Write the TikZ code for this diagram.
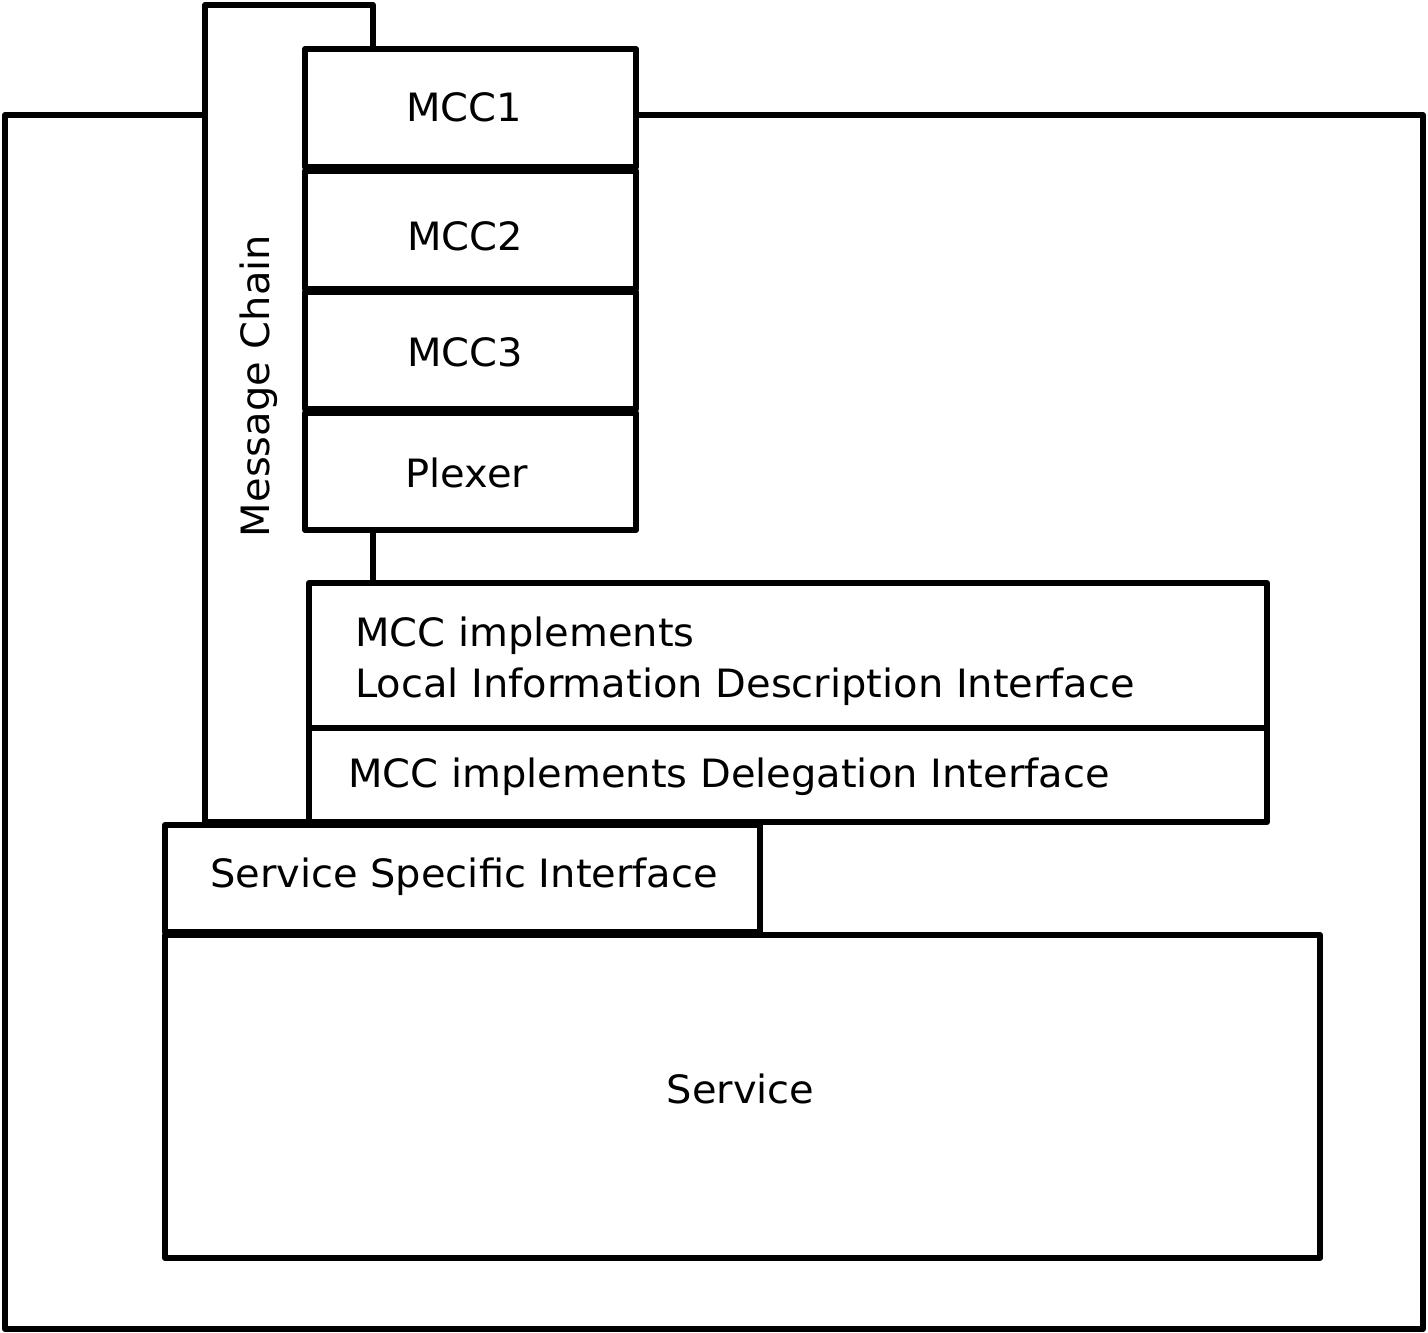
\documentclass[tikz,border=0pt]{standalone}
\usepackage{fontspec}
\setmainfont{DejaVu Sans}[FakeStretch=1.025]
\begin{document}
\begin{tikzpicture}[x=1pt,y=-1pt,
  box/.style={draw=black, fill=white, line width=6pt, line join=round, rectangle, inner sep=0pt, outer sep=0pt},
  lbl/.style={font=\fontsize{39}{51}\selectfont, inner sep=0pt, text height=28.5pt, text depth=0pt}]
\useasboundingbox (0,0) rectangle (1428,1333);
% outer environment box
\node[box, minimum width=1418, minimum height=1214] (outer) at (714,722) {};
% message chain column
\node[box, minimum width=168, minimum height=817] (chain) at (289,413.5) {};
\node[lbl, rotate=90] (chaint) at (255,386) {Message Chain};
% MCC stack
\node[box, minimum width=331, minimum height=118] (mcc1) at (470.5,108) {};
\node[box, minimum width=331, minimum height=118] (mcc2) at (470.5,230) {};
\node[box, minimum width=331, minimum height=117] (mcc3) at (470.5,350.5) {};
\node[box, minimum width=331, minimum height=117] (plexer) at (470.5,471.5) {};
\node[lbl] (mcc1t) at (464,107) {MCC1};
\node[lbl] (mcc2t) at (465,236) {MCC2};
\node[lbl] (mcc3t) at (465,352.5) {MCC3};
\node[lbl] (plexert) at (467,473) {Plexer};
% interfaces
\node[box, minimum width=958, minimum height=145] (lidi) at (788,655.5) {};
\node[box, minimum width=958, minimum height=94] (deleg) at (788,775) {};
\node[lbl, anchor=west] (lidit1) at (355,632.5) {MCC implements};
\node[lbl, anchor=west] (lidit2) at (355,683.5) {Local Information Description Interface};
\node[lbl, anchor=west] (delegt) at (348,773) {MCC implements Delegation Interface};
% service
\node[box, minimum width=595, minimum height=107] (ssi) at (462.5,878.5) {};
\node[lbl] (ssit) at (464,873.5) {Service Specific Interface};
\node[box, minimum width=1155, minimum height=323] (service) at (742.5,1096.5) {};
\node[lbl] (servicet) at (740.5,1089.5) {Service};
\end{tikzpicture}
\end{document}
